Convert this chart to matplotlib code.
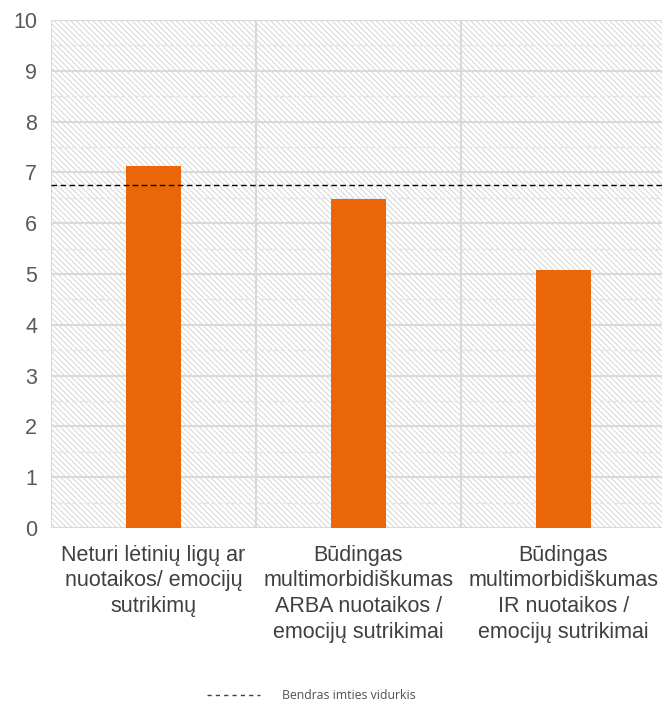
import numpy as np
import matplotlib.pyplot as plt
from matplotlib.patches import Rectangle

categories = [
    "Neturi lėtinių ligų ar\nnuotaikos/ emocijų\nsutrikimų",
    "Būdingas\nmultimorbidiškumas\nARBA nuotaikos /\nemocijų sutrikimai",
    "Būdingas\nmultimorbidiškumas\nIR nuotaikos /\nemocijų sutrikimai",
]
values = [7.13, 6.48, 5.08]
mean_value = 6.75
mean_label = "Bendras imties vidurkis"

plt.rcParams['font.family'] = ['Liberation Sans', 'DejaVu Sans']
plt.rcParams['hatch.linewidth'] = 0.7
plt.rcParams['hatch.color'] = '#d6d6d6'

fig = plt.figure(figsize=(6.62, 7.04), dpi=100)
ax = fig.add_axes([0.077, 0.25, 0.929, 0.7216])

x = np.arange(len(categories))
ax.set_xlim(-0.5, 2.5)
ax.set_ylim(0, 10)

# hatched background
ax.add_patch(Rectangle((0, 0), 1, 1, transform=ax.transAxes, facecolor='white',
                       edgecolor='#d6d6d6', hatch='\\' * 6, linewidth=0, zorder=0))

# gridlines
for y in np.arange(0.5, 10, 1.0):
    ax.axhline(y, color='#e3e3e3', lw=1, ls=(0, (3, 2)), zorder=1)
for y in range(0, 11):
    ax.axhline(y, color='#d9d9d9', lw=1.5, zorder=1)
for xv in [-0.5, 0.5, 1.5]:
    ax.axvline(xv, color='#d9d9d9', lw=1.5, zorder=1)

ax.bar(x, values, width=0.27, color='#eb6608', zorder=3)
ax.plot([-0.5, 2.5], [mean_value, mean_value], color='black', lw=1,
        ls=(0, (4, 2.5)), zorder=4, label=mean_label)

for s in ax.spines.values():
    s.set_visible(False)
ax.set_yticks(range(0, 11))
ax.set_xticks(x)
ax.set_xticklabels(categories, fontsize=15.5, color='#404040', linespacing=1.3)
ax.tick_params(axis='y', labelsize=15.5, labelcolor='#595959', length=0, pad=10)
ax.tick_params(axis='x', length=0, pad=12)

leg = fig.legend(loc='center', bbox_to_anchor=(0.47, 0.012), frameon=False,
                 prop={'family': 'Open Sans', 'size': 8.8}, handlelength=4.3,
                 handletextpad=1.8)
for t in leg.get_texts():
    t.set_color('#505050')
for h in leg.get_lines():
    h.set_linestyle((0, (3, 3)))
    h.set_color('#404040')

fig.savefig("out.png", dpi=100)
